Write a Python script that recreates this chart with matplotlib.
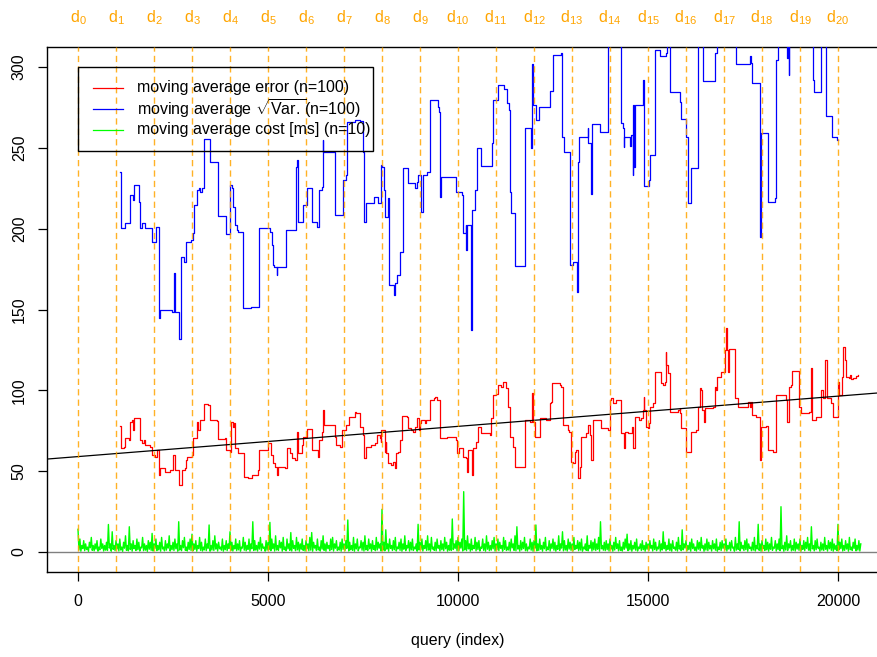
import numpy as np
import matplotlib.pyplot as plt
import matplotlib.transforms as mtransforms
from matplotlib.patches import Rectangle

plt.rcParams['font.family'] = ['Liberation Sans', 'DejaVu Sans']
plt.rcParams['mathtext.fontset'] = 'custom'
plt.rcParams['mathtext.rm'] = 'Liberation Sans'
plt.rcParams['mathtext.it'] = 'Liberation Sans:italic'
plt.rcParams['font.size'] = 11.5

# moving average of the error (n=100), step values at query index
err_x = [1096, 1131, 1201, 1228, 1333, 1359, 1420, 1446, 1464, 1595, 1621, 1683, 1726, 1770,
         1901, 1945, 2033, 2076, 2120, 2146, 2295, 2426, 2496, 2558, 2645, 2733, 2820, 2846,
         2881, 2995, 3021, 3126, 3170, 3214, 3319, 3433, 3476, 3669, 3695, 3870, 3896, 4001,
         4028, 4071, 4106, 4133, 4220, 4369, 4483, 4570, 4745, 4763, 5008, 5069, 5121, 5183,
         5226, 5270, 5445, 5489, 5576, 5620, 5708, 5751, 5795, 5883, 5926, 6014, 6145, 6320,
         6346, 6408, 6451, 6469, 6758, 6801, 6889, 6959, 7064, 7134, 7283, 7326, 7414, 7501,
         7526, 7588, 7719, 7807, 7868, 7939, 7965, 7982, 8070, 8096, 8114, 8158, 8246, 8289,
         8333, 8377, 8421, 8465, 8526, 8658, 8684, 8772, 8816, 8859, 8921, 8973, 8991, 9035,
         9123, 9166, 9272, 9359, 9386, 9447, 9517, 9535, 9710, 9912, 9956, 9973, 10017, 10131,
         10201, 10236, 10254, 10359, 10394, 10482, 10526, 10613, 10833, 10877, 10920, 11008,
         11052, 11140, 11183, 11254, 11315, 11359, 11447, 11499, 11771, 11885, 11947, 11973,
         12017, 12148, 12324, 12411, 12455, 12473, 12674, 12718, 12762, 12894, 12920, 12981,
         13025, 13069, 13113, 13157, 13201, 13244, 13376, 13420, 13464, 13508, 13551, 13771,
         13946, 13990, 14034, 14078, 14165, 14299, 14361, 14387, 14474, 14580, 14606, 14650,
         14763, 14825, 14869, 14886, 14900, 14956, 15000, 15026, 15044, 15131, 15175, 15350,
         15394, 15438, 15464, 15482, 15526, 15569, 15587, 15788, 15832, 15850, 15876, 16007,
         16139, 16270, 16314, 16358, 16402, 16428, 16463, 16489, 16708, 16752, 16796, 16813,
         16927, 17015, 17041, 17076, 17102, 17129, 17278, 17365, 17628, 17672, 17716, 17742,
         17847, 17935, 17952, 17978, 18110, 18154, 18285, 18373, 18635, 18662, 18723, 18767,
         18796, 18986, 19030, 19249, 19292, 19319, 19424, 19555, 19599, 19669, 19704, 19818,
         19862, 19993, 20019, 20107, 20142, 20177, 20212, 20299, 20317, 20344, 20387, 20475,
         20526]
err_y = [78.2, 64.2, 65.2, 70.3, 69.0, 80.7, 81.7, 75.5, 82.7, 83.0, 69.3, 67.3, 69.3, 66.2,
         65.2, 60.0, 59.0, 63.1, 47.7, 51.8, 49.7, 50.8, 60.0, 50.8, 41.5, 50.8, 51.8, 57.0,
         59.0, 60.0, 70.3, 80.7, 75.5, 81.7, 91.6, 91.0, 81.7, 81.0, 69.7, 70.3, 63.1, 62.1,
         80.7, 77.6, 79.6, 64.2, 61.0, 46.6, 45.6, 47.7, 50.8, 63.1, 67.3, 60.0, 55.0, 52.8,
         47.7, 52.8, 51.8, 64.2, 61.0, 58.0, 57.0, 74.5, 61.0, 66.2, 71.4, 76.1, 63.1, 59.0,
         69.3, 74.5, 87.9, 78.6, 71.4, 66.2, 65.2, 75.5, 78.6, 83.7, 86.8, 85.8, 77.6, 72.4,
         58.0, 65.1, 66.2, 67.6, 72.4, 70.3, 68.2, 75.5, 62.1, 68.2, 61.0, 54.8, 53.8, 55.9,
         51.7, 61.0, 62.1, 69.3, 84.3, 83.7, 76.5, 75.5, 74.4, 77.5, 82.7, 75.5, 79.6, 81.6,
         79.6, 81.6, 94.0, 95.0, 96.1, 94.0, 76.5, 70.3, 70.9, 71.3, 69.3, 61.0, 64.1, 59.0,
         58.0, 49.7, 63.1, 47.6, 64.1, 68.2, 77.5, 73.4, 72.4, 82.7, 97.1, 97.7,
         103.3, 102.3, 105.4, 101.2, 89.9, 71.3, 65.1, 52.8, 81.6, 80.6, 98.1, 80.6,
         71.3, 82.7, 81.6, 92.0, 93.0, 104.3, 103.3, 102.3, 78.5, 75.5, 74.4, 55.9,
         54.8, 62.1, 63.1, 45.6, 52.8, 71.3, 73.4, 78.5, 72.4, 56.9, 81.6, 76.5,
         75.5, 94.0, 95.0, 92.0, 94.0, 73.4, 64.1, 74.4, 73.4, 77.5, 64.1, 83.7,
         81.7, 82.7, 87.8, 96.1, 87.8, 77.5, 76.5, 79.6, 89.9, 92.0, 111.6, 104.3,
         103.3, 105.4, 123.9, 115.7, 110.5, 106.4, 86.8, 87.8, 88.9, 85.8, 76.5, 62.1,
         74.4, 75.5, 89.9, 101.2, 100.2, 87.8, 80.6, 88.9, 89.9, 102.3, 100.2, 108.5,
         111.6, 125.0, 138.4, 125.0, 111.6, 125.4, 95.1, 89.9, 93.0, 89.9, 93.0, 84.7,
         83.7, 77.5, 56.9, 77.5, 78.0, 63.1, 62.1, 97.1, 94.0, 80.6, 102.3, 103.3,
         112.2, 89.9, 85.8, 86.8, 113.6, 81.7, 83.7, 100.2, 95.1, 118.8, 95.1, 92.0,
         83.7, 105.4, 97.1, 108.5, 126.6, 118.8, 108.5, 107.4, 109.5, 106.8, 107.8, 108.9,
         109.5]

# moving average of sqrt(Var.) (n=100)
var_x = [1095, 1130, 1244, 1375, 1437, 1463, 1612, 1638, 1682, 1770, 1945, 2050, 2129, 2137,
         2164, 2470, 2514, 2558, 2646, 2716, 2794, 2829, 2970, 3022, 3040, 3127, 3171, 3215,
         3259, 3304, 3479, 3697, 3889, 4003, 4047, 4073, 4091, 4135, 4179, 4196, 4222, 4354,
         4546, 4765, 5055, 5098, 5125, 5160, 5230, 5247, 5475, 5729, 5755, 5773, 5782, 5931,
         6036, 6150, 6281, 6351, 6412, 6440, 6457, 6771, 6982, 7060, 7080, 7300, 7420, 7491,
         7526, 7534, 7578, 7797, 7902, 7972, 8000, 8050, 8076, 8164, 8182, 8322, 8349, 8384,
         8471, 8541, 8690, 8865, 8909, 8953, 9014, 9084, 9172, 9261, 9480, 9506, 9522, 9536,
         9562, 9939, 9956, 10114, 10131, 10201, 10219, 10230, 10350, 10368, 10438, 10499,
         10613, 10894, 10920, 11051, 11200, 11296, 11332, 11358, 11384, 11507, 11752, 11770,
         11927, 11945, 11971, 12041, 12129, 12427, 12497, 12716, 12742, 12777, 12952, 13022,
         13136, 13154, 13197, 13416, 13434, 13504, 13530, 13741, 13960, 14292, 14336, 14362,
         14380, 14538, 14564, 14599, 14617, 14634, 14660, 14862, 14879, 14897, 15037, 15055,
         15195, 15318, 15475, 15493, 15580, 15843, 15869, 16001, 16044, 16132, 16307, 16439,
         16771, 16807, 17315, 17682, 17709, 17726, 17945, 17954, 17972, 18164, 18348, 18366,
         18410, 18646, 18673, 18699, 18716, 19347, 19373, 19566, 19697, 19855, 19969, 19995]
var_y = [235.3, 200.2, 203.7, 220.9, 217.8, 227.0, 216.7, 200.2, 203.3, 200.2, 192.0, 201.3,
         149.7, 144.6, 149.7, 148.7, 172.4, 148.7, 131.6, 182.7, 179.6, 192.0, 193.0, 197.1,
         214.7, 224.0, 225.0, 223.0, 225.0, 255.5, 241.4, 207.9, 196.7, 227.0, 225.0, 223.0,
         213.6, 202.3, 201.3, 199.2, 198.2, 150.7, 151.8, 200.2, 198.2, 189.9, 177.5, 176.5,
         171.4, 176.5, 199.2, 238.4, 239.4, 242.5, 204.4, 214.7, 225.0, 204.4, 201.3, 224.0,
         225.6, 254.8, 247.6, 208.5, 230.0, 233.0, 266.2, 267.2, 266.6, 247.6, 234.0, 204.4,
         216.1, 219.8, 216.1, 239.4, 238.4, 224.0, 207.4, 218.8, 165.2, 159.0, 166.2, 171.4,
         185.8, 237.4, 228.0, 225.0, 229.1, 233.2, 210.5, 233.2, 235.3, 279.6, 275.5, 272.4,
         232.2, 219.8, 232.2, 228.0, 222.9, 220.8, 197.1, 202.3, 186.8, 202.3, 137.3, 211.5,
         223.9, 249.7, 238.8, 252.8, 279.6, 288.9, 286.2, 277.5, 273.4, 222.9, 209.5, 176.9,
         243.5, 262.1, 249.7, 301.9, 276.5, 267.2, 275.5, 285.4, 307.4, 308.5, 256.9, 247.6,
         177.5, 179.6, 161.0, 241.4, 256.9, 262.1, 252.8, 221.4, 264.7, 260.0, 340.0, 265.2,
         262.0, 250.3, 256.9, 251.1, 258.0, 233.2, 276.5, 238.3, 276.5, 281.7, 291.9, 226.4,
         230.1, 245.5, 310.5, 306.8, 308.5, 340.0, 284.3, 278.6, 267.6, 256.9, 216.1, 237.3,
         340.0, 291.5, 308.5, 340.0, 301.9, 306.8, 302.3, 290.3, 259.0, 195.0, 259.4, 216.7,
         218.8, 304.3, 340.0, 305.8, 340.0, 295.0, 340.0, 291.9, 284.7, 340.0, 269.7, 256.9,
         254.8, 254.8]

# moving average cost in ms (n=10): peaks every 50 queries, troughs in between
cost_step = 50
cost_peak = [
    14, 8, 4, 7, 5, 3, 6, 9, 4, 5, 7, 3, 8, 5, 4, 6, 17, 5, 12.5, 4,
    7, 5, 8, 3, 6, 10, 4, 15.6, 5, 7, 4, 8, 6, 3, 9, 5, 4, 7, 6, 11.5,
    5, 8, 4, 6, 9, 3, 7, 5, 10, 4, 6, 8, 5, 18.7, 4, 7, 9, 3, 6, 8,
    11, 5, 7, 4, 9, 6, 3, 8, 5, 16.7, 4, 7, 10, 5, 6, 3, 8, 4, 7, 5,
    12.5, 6, 4, 8, 5, 7, 3, 9, 6, 4, 8, 5, 18.7, 7, 4, 6, 9, 5, 3, 7,
    6, 18.3, 8, 5, 10, 4, 7, 6, 9, 3, 8, 5, 12, 7, 4, 9, 6, 5, 8, 4,
    7, 5, 9, 12, 6, 4, 8, 3, 7, 10, 5, 6, 4, 8, 9, 5, 7, 3, 6, 8,
    5, 7, 19.8, 6, 4, 9, 5, 8, 3, 7, 6, 10, 4, 8, 5, 7, 4, 9, 6, 5,
    26.4, 6, 13.7, 5, 8, 4, 7, 9, 3, 6, 8, 5, 10, 4, 7, 6, 8, 3, 5, 17.1,
    6, 8, 4, 7, 10, 5, 9, 3, 6, 8, 4, 7, 5, 9, 6, 4, 8, 20.4, 5, 7,
    9, 6, 8, 37.3, 7, 10, 5, 8, 4, 9, 6, 7, 3, 8, 5, 10, 6, 4, 7, 9,
    5, 8, 6, 4, 9, 7, 3, 6, 8, 5, 10, 15.6, 4, 7, 6, 9, 5, 3, 8, 6,
    7, 16.7, 5, 8, 4, 6, 9, 3, 7, 5, 8, 6, 4, 10, 5, 12.5, 7, 4, 8, 6,
    5, 9, 4, 7, 6, 8, 3, 5, 10, 4, 7, 6, 8, 5, 9, 18.7, 4, 6, 7, 5,
    8, 4, 6, 9, 5, 7, 3, 6, 8, 11, 5, 7, 4, 6, 8, 3, 5, 7, 4, 6,
    5, 7, 4, 8, 6, 3, 7, 5, 12.5, 6, 4, 8, 5, 7, 3, 6, 9, 4, 13.7, 5,
    7, 4, 6, 8, 5, 3, 7, 6, 9, 4, 5, 8, 6, 4, 7, 5, 8, 3, 6, 7,
    5, 8, 4, 6, 7, 3, 9, 5, 18.7, 6, 4, 7, 8, 5, 3, 6, 9, 4, 17.1, 5,
    7, 4, 8, 6, 5, 9, 3, 7, 5, 8, 28, 4, 6, 10, 5, 7, 4, 8, 6, 5,
    8, 4, 7, 6, 9, 5, 15.6, 4, 7, 8, 3, 6, 5, 9, 4, 7, 6, 8, 5, 4,
    17.1, 6, 8, 4, 7, 5, 9, 3, 6, 8, 4, 7, 5,
]
cost_trough = [
    1.2, 0.5, 2.1, 0.8, 1.5, 0.4, 2.6, 1.0, 0.7, 1.8, 0.5, 1.3, 2.2, 0.6, 1.1, 0.9, 2.4, 0.5, 1.6, 0.8,
    1.9, 0.6, 1.2, 0.4, 2.3, 1.0, 0.7, 1.5, 0.5, 2.0, 0.9, 1.4, 0.6, 2.5, 0.8, 1.1, 0.4, 1.7, 1.0, 0.6,
    2.2, 0.8, 1.3, 0.5, 1.9, 0.7, 1.1, 2.4, 0.6, 1.4, 0.9, 2.0, 0.5, 1.2, 0.8, 2.6, 1.0, 0.6, 1.5, 0.9,
    0.7, 1.6, 0.5, 2.1, 1.0, 0.6, 1.3, 0.8, 2.3, 0.5, 1.2, 0.9, 1.8, 0.6, 2.0, 1.1, 0.5, 1.4, 0.8, 2.2,
    1.0, 0.6, 1.9, 0.8, 1.3, 0.5, 2.4, 1.1, 0.7, 1.6, 0.5, 2.0, 0.9, 1.2, 0.6, 1.8, 0.8, 2.3, 0.5, 1.1,
    1.5, 0.8, 2.1, 0.6, 1.2, 0.9, 2.5, 0.5, 1.4, 0.7, 1.9, 1.0, 0.6, 2.2, 0.8, 1.3, 0.5, 1.7, 1.0, 0.6,
    2.0, 0.7, 1.1, 0.5, 2.4, 0.9, 1.3, 0.6, 1.8, 1.0, 0.5, 2.1, 0.8, 1.5, 0.6, 2.3, 0.9, 1.2, 0.5, 1.6,
    0.8, 2.2, 0.6, 1.4, 1.0, 0.5, 1.9, 0.7, 2.5, 1.1, 0.6, 1.3, 0.9, 2.0, 0.5, 1.6, 0.8, 1.2, 2.3, 0.6,
    1.1, 0.7, 1.8, 0.5, 2.2, 0.9, 1.4, 0.6, 2.0, 1.0, 0.5, 1.7, 0.8, 2.4, 0.6, 1.3, 0.9, 1.9, 0.5, 1.2,
    1.6, 0.6, 2.1, 0.9, 1.2, 0.5, 1.8, 1.0, 0.7, 2.3, 0.6, 1.4, 0.8, 2.0, 0.5, 1.1, 0.9, 1.5, 2.2, 0.7,
    0.9, 2.4, 0.6, 1.3, 0.8, 1.9, 0.5, 1.2, 2.1, 0.7, 1.5, 0.6, 2.3, 1.0, 0.5, 1.7, 0.8, 1.1, 2.0, 0.6,
    1.4, 0.8, 2.2, 0.5, 1.6, 0.9, 1.2, 0.6, 2.5, 1.0, 0.7, 1.8, 0.5, 1.3, 2.1, 0.8, 0.6, 1.9, 1.1, 0.5,
    2.3, 0.7, 1.0, 1.7, 0.5, 2.0, 0.8, 1.4, 0.6, 2.2, 1.1, 0.5, 1.6, 0.9, 2.4, 0.7, 1.2, 0.6, 1.8, 1.0,
    0.6, 1.5, 2.1, 0.8, 1.2, 0.5, 1.9, 1.0, 0.7, 2.3, 0.6, 1.3, 0.9, 1.7, 0.5, 2.0, 1.1, 0.8, 1.4, 0.6,
    1.8, 0.5, 1.2, 2.2, 0.7, 1.0, 0.6, 1.6, 2.4, 0.8, 1.3, 0.5, 1.9, 1.1, 0.6, 2.1, 0.9, 1.4, 0.5, 1.7,
    1.0, 2.3, 0.6, 1.5, 0.8, 1.9, 0.5, 1.2, 2.0, 0.7, 1.6, 0.9, 0.5, 2.2, 1.1, 0.6, 1.8, 0.8, 1.3, 2.4,
    0.7, 1.4, 0.5, 2.1, 1.0, 0.6, 1.7, 0.9, 2.3, 0.5, 1.2, 0.8, 1.9, 0.6, 2.0, 1.1, 0.5, 1.5, 0.9, 2.2,
    1.3, 0.6, 1.8, 0.8, 2.4, 0.5, 1.1, 1.6, 0.7, 2.0, 0.9, 1.4, 0.5, 2.2, 0.8, 1.2, 0.6, 1.9, 1.0, 0.5,
    2.1, 0.9, 1.3, 0.5, 1.7, 1.0, 2.3, 0.6, 1.5, 0.8, 2.0, 0.5, 1.2, 0.9, 2.5, 0.7, 1.1, 0.6, 1.8, 1.0,
    0.5, 1.6, 0.8, 2.2, 1.1, 0.6, 1.9, 0.7, 1.4, 2.3, 0.5, 1.2, 0.9, 1.7, 0.6, 2.0, 1.0, 0.5, 1.5, 0.8,
    1.3, 2.1, 0.6, 1.0, 1.8, 0.5, 1.4, 0.9, 2.2, 0.7, 1.2, 0.6,
]

# linear fit of the error
fit_intercept = 59.0
fit_slope = 0.00187

# data set boundaries every 1000 queries
d_pos = list(range(0, 21000, 1000))
d_labels = [r'$\mathregular{d_{%d}}$' % i for i in range(len(d_pos))]

legend_labels = ['moving average error (n=100)',
                 r'moving average $\sqrt{\mathrm{Var.}}$(n=100)',
                 'moving average cost [ms] (n=10)']
legend_colors = ['#ff0000', '#0000ff', '#00ff00']

fig = plt.figure(figsize=(8.78, 6.57), dpi=100)
ax = fig.add_axes([47 / 878, 85 / 657, 831 / 878, 525 / 657])

# peaks and troughs alternate every half step
cost_x = np.zeros(len(cost_peak) + len(cost_trough))
cost_y = np.zeros_like(cost_x)
cost_x[0::2] = np.arange(len(cost_peak)) * cost_step
cost_y[0::2] = cost_peak
cost_x[1::2] = np.arange(len(cost_trough)) * cost_step + cost_step / 2
cost_y[1::2] = cost_trough

ax.axhline(0, color='#808080', lw=1.0, zorder=1)
ax.plot(cost_x, cost_y, color='#00ff00', lw=1.0, zorder=2)
ax.plot(err_x, err_y, color='#ff0000', lw=0.9, drawstyle='steps-post', zorder=3)
ax.plot(var_x, var_y, color='#0000ff', lw=0.9, drawstyle='steps-post', zorder=3)
ax.axline((0, fit_intercept), slope=fit_slope, color='black', lw=0.9, zorder=4)

for x in d_pos:
    ax.axvline(x, color='#ffa500', lw=1.0, dashes=(4.5, 3), alpha=0.85, zorder=5)

trans = mtransforms.blended_transform_factory(ax.transData, fig.transFigure)
for x, lab in zip(d_pos, d_labels):
    fig.text(x, 1 - 18 / 657, lab, transform=trans, ha='center', va='center',
             color='#ffa500', fontsize=11.5)

ax.set_xlim(-816, 21053)
ax.set_ylim(-12.4, 312.4)
ax.set_xticks([0, 5000, 10000, 15000, 20000])
ax.set_yticks([0, 50, 100, 150, 200, 250, 300])
ax.tick_params(direction='out', length=6.5, width=0.9, labelsize=11.5)
ax.tick_params(axis='x', pad=9)
ax.tick_params(axis='y', pad=8, labelrotation=90)
for lab in ax.get_yticklabels():
    lab.set_va('center')
ax.spines['right'].set_visible(False)
for s in ['left', 'bottom', 'top']:
    ax.spines[s].set_linewidth(1.0)

fig.text(458 / 878, 1 - 641 / 657, 'query (index)', ha='center', va='center',
         fontsize=11.5)

# legend box drawn by hand, see-through, so the last label can run past the frame
ax.add_patch(Rectangle((0.0373, 0.802), 0.355, 0.160, transform=ax.transAxes,
                       facecolor='none', edgecolor='black', lw=1.0, zorder=6))
for row, (lab, col) in enumerate(zip(legend_labels, legend_colors)):
    yy = 0.922 - row * 0.040
    ax.plot([0.0554, 0.0915], [yy, yy], transform=ax.transAxes, color=col,
            lw=0.9, zorder=7)
    ax.text(0.1083, yy, lab, transform=ax.transAxes, va='center', ha='left',
            fontsize=11.5, zorder=7)

fig.savefig('out.png', dpi=100)
